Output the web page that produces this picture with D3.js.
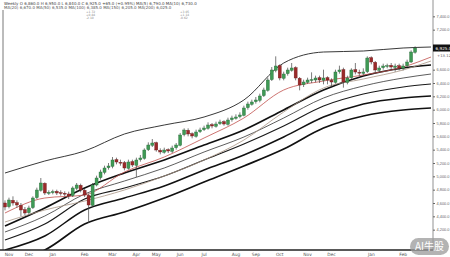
<!DOCTYPE html>
<html>
<head>
<meta charset="utf-8">
<script src="https://cdn.jsdelivr.net/npm/d3@7"></script>
<style>
  body { margin: 0; background: #fff; }
  svg { display: block; font-family: "DejaVu Sans", sans-serif; }
</style>
</head>
<body>
<script>
var width = 450;
var height = 257;

// candles (weekly), prices
var opens = [4600,4545,4640,4605,4565,4500,4455,4530,4680,4790,4895,4745,4755,4775,4755,4745,4735,4710,4820,4865,
  4790,4715,4565,4870,4980,5060,5130,5150,5250,5210,5205,5120,5220,5165,5250,5270,5400,5465,5505,5390,
  5360,5400,5375,5430,5465,5625,5690,5640,5600,5670,5700,5720,5775,5750,5790,5820,5780,5850,5870,5895,
  5915,6030,6080,6120,6140,6210,6290,6450,6590,6660,6470,6540,6590,6630,6470,6375,6410,6440,6445,6480,
  6440,6480,6440,6410,6570,6600,6410,6480,6600,6560,6545,6570,6780,6710,6590,6630,6650,6665,6635,6660,
  6620,6660,6715,6860];
var closes = [4540,4645,4600,4570,4495,4450,4525,4675,4795,4900,4750,4760,4770,4750,4745,4735,4705,4825,4870,4795,
  4720,4570,4870,4975,5065,5125,5155,5245,5215,5200,5125,5215,5170,5245,5275,5395,5470,5500,5395,5365,
  5395,5380,5425,5470,5620,5695,5635,5605,5665,5695,5725,5770,5755,5785,5815,5785,5845,5875,5890,5920,
  6025,6085,6115,6145,6205,6295,6445,6595,6655,6475,6535,6595,6625,6475,6370,6415,6445,6450,6475,6445,
  6475,6445,6415,6565,6595,6415,6475,6595,6565,6550,6565,6775,6715,6595,6625,6655,6660,6640,6655,6625,
  6655,6715,6865,6925];
var highs = [4640,4680,4700,4640,4600,4540,4560,4700,4830,4975,4910,4790,4800,4800,4790,4775,4770,4850,4900,4890,
  4810,4740,4900,5010,5100,5160,5200,5290,5280,5250,5230,5250,5250,5280,5320,5420,5510,5560,5520,5420,
  5430,5420,5460,5500,5650,5720,5720,5660,5700,5730,5760,5810,5800,5820,5850,5840,5880,5910,5930,5960,
  6060,6120,6150,6190,6240,6330,6480,6640,6800,6680,6570,6630,6700,6650,6490,6450,6480,6560,6510,6510,
  6600,6500,6470,6600,6660,6630,6510,6620,6700,6600,6620,6800,6800,6730,6660,6690,6690,6700,6690,6690,
  6690,6750,6890,6950];
var lows = [4490,4520,4560,4530,4400,4420,4430,4510,4660,4770,4720,4720,4730,4720,4710,4700,4660,4690,4790,4760,
  4690,4300,4540,4850,4950,5030,5100,5120,5180,5160,5090,5100,5140,4990,5220,5250,5380,5440,5370,5330,
  5340,5350,5350,5400,5450,5600,5600,5570,5580,5650,5680,5700,5720,5730,5770,5760,5760,5820,5850,5870,
  5900,6000,6060,6090,6110,6190,6270,6430,6560,6440,6440,6510,6570,6440,6290,6340,6390,6400,6410,6400,
  6380,6380,6330,6390,6540,6330,6380,6460,6530,6510,6520,6550,6680,6560,6560,6600,6620,6600,6570,6590,
  6590,6640,6700,6840];

// indicator lines, sampled at these candle indices
var lineIdx = [0,10,20,30,40,50,60,70,80,90,100,107];
var upperBand = [5050,5230,5380,5635,5770,5890,6145,6700,6865,6880,6925,6940];
var maShort   = [4450,4675,4720,5065,5290,5575,5875,6295,6430,6520,6640,6790];
var maMid     = [4315,4495,4630,4795,5005,5245,5545,5965,6325,6460,6595,6730];
var ma50      = [4255,4525,4825,5050,5245,5470,5695,5995,6295,6505,6625,6670];
var lowerBand = [4165,4405,4735,4930,5125,5365,5590,5875,6175,6355,6475,6535];
var ma100     = [4045,4285,4660,4825,5005,5245,5485,5755,6055,6235,6340,6385];
var ma150     = [3895,4105,4495,4675,4855,5095,5320,5590,5890,6085,6175,6205];
var ma200     = [3715,3895,4285,4465,4675,4915,5155,5410,5725,5905,5995,6025];

var xLabels = ["Nov","Dec","Jan","Feb","Mar","Apr","May","Jun","Jul","Aug","Sep","Oct","Nov","Dec","Jan","Feb"];
var xLabelIdx = [1,6,12,20,27,33,38,44,50,58,63,69,76,82,92,100];
var yTicks = d3.range(4000, 7401, 200);

var headerLine1 = "Weekly  O 6,860.0  H 6,950.0  L 6,840.0  C 6,925.0  +65.0 (+0.95%)  MA(5) 6,790.0  MA(10) 6,730.0";
var headerLine2 = "MA(20) 6,670.0  MA(50) 6,535.0    MA(100) 6,385.0    MA(150) 6,205.0    MA(200) 6,025.0";

var svg = d3.select("body").append("svg")
  .attr("width", width)
  .attr("height", height);

var plotLeft = 3, plotRight = 433, plotTop = 10, plotBottom = 250;

var x = d3.scaleLinear().domain([-0.5, 107.5]).range([plotLeft, plotRight]);
var y = d3.scaleLinear().domain([3895, 7405]).range([plotBottom, 16]);

svg.append("defs").append("clipPath").attr("id", "plot")
  .append("rect")
  .attr("x", plotLeft).attr("y", plotTop)
  .attr("width", plotRight - plotLeft).attr("height", plotBottom - plotTop);

var plot = svg.append("g").attr("clip-path", "url(#plot)");

// lines
var lineDefs = [
  { data: ma200, color: "#111", w: 1.7 },
  { data: ma150, color: "#111", w: 1.5 },
  { data: ma100, color: "#1a1a1a", w: 1.2 },
  { data: lowerBand, color: "#333", w: 0.8 },
  { data: ma50, color: "#111", w: 1.7 },
  { data: maMid, color: "#a89484", w: 0.8 },
  { data: maShort, color: "#c0504d", w: 0.8 },
  { data: upperBand, color: "#222", w: 0.9 }
];

var lineGen = d3.line()
  .x(function(d, i) { return x(lineIdx[i]); })
  .y(function(d) { return y(d); })
  .curve(d3.curveMonotoneX);

lineDefs.forEach(function(l) {
  plot.append("path")
    .attr("d", lineGen(l.data))
    .attr("fill", "none")
    .attr("stroke", l.color)
    .attr("stroke-width", l.w);
});

// candles
var candles = opens.map(function(o, i) {
  return { i: i, o: o, c: closes[i], h: highs[i], l: lows[i] };
});

var cg = plot.selectAll("g.candle").data(candles).enter().append("g").attr("class", "candle");

cg.append("line")
  .attr("x1", function(d) { return x(d.i); })
  .attr("x2", function(d) { return x(d.i); })
  .attr("y1", function(d) { return y(d.h); })
  .attr("y2", function(d) { return y(d.l); })
  .attr("stroke", "#444")
  .attr("stroke-width", 0.7);

cg.append("rect")
  .attr("x", function(d) { return x(d.i) - 1.5; })
  .attr("width", 3)
  .attr("y", function(d) { return y(Math.max(d.o, d.c)); })
  .attr("height", function(d) { return Math.max(0.8, Math.abs(y(d.o) - y(d.c))); })
  .attr("fill", function(d) { return d.c >= d.o ? "#3f9a55" : "#9b2a2a"; })
  .attr("stroke", function(d) { return d.c >= d.o ? "#2a6b3a" : "#6e1a1a"; })
  .attr("stroke-width", 0.4);

// frame
svg.append("line").attr("x1", plotLeft).attr("x2", plotLeft).attr("y1", plotTop).attr("y2", plotBottom)
  .attr("stroke", "#555").attr("stroke-width", 0.8);
svg.append("line").attr("x1", plotRight).attr("x2", plotRight).attr("y1", 0).attr("y2", plotBottom)
  .attr("stroke", "#777").attr("stroke-width", 0.8);
svg.append("line").attr("x1", 0).attr("x2", plotRight).attr("y1", plotBottom).attr("y2", plotBottom)
  .attr("stroke", "#222").attr("stroke-width", 1.5);

// right axis, hiding ticks under the price tag
var last = closes[closes.length - 1];
var visTicks = yTicks.filter(function(t) { return Math.abs(y(t) - y(last)) > 9 && y(t) < 236; });
var yAxis = svg.append("g")
  .attr("transform", "translate(" + plotRight + ",0)")
  .call(d3.axisRight(y).tickValues(visTicks).tickSize(2).tickFormat(d3.format(",.1f")));
yAxis.select(".domain").remove();
yAxis.selectAll("line").attr("stroke", "#666");
yAxis.selectAll("text").attr("font-size", 3.9).attr("fill", "#666").attr("x", 3.5);

// last price tag
svg.append("rect")
  .attr("x", plotRight).attr("y", y(last) - 3.5)
  .attr("width", width - plotRight).attr("height", 7)
  .attr("fill", "#111");
svg.append("text")
  .attr("x", plotRight + 2.5).attr("y", y(last) + 1.6)
  .attr("font-size", 4.2).attr("fill", "#fff")
  .text(d3.format(",.1f")(last));
svg.append("text")
  .attr("x", plotRight + 4).attr("y", y(last) + 8.5)
  .attr("font-size", 3.8).attr("fill", "#666")
  .text("+13.12");

// bottom axis labels
svg.selectAll("text.xl").data(xLabels).enter().append("text")
  .attr("class", "xl")
  .attr("x", function(d, i) { return x(xLabelIdx[i]); })
  .attr("y", 255.5)
  .attr("text-anchor", "middle")
  .attr("font-size", 4.4)
  .attr("fill", "#555")
  .text(function(d) { return d; });

// header
svg.append("text").attr("x", 4).attr("y", 4.5)
  .attr("font-size", 4).attr("fill", "#444").text(headerLine1);
svg.append("text").attr("x", 4).attr("y", 9)
  .attr("font-size", 4).attr("fill", "#555").text(headerLine2);
[["+1.72", 86], ["+0.84", 86], ["-2.10", 86], ["+3.05", 180], ["+1.14", 180], ["-0.62", 180]].forEach(function(t, k) {
  svg.append("text").attr("x", t[1]).attr("y", 12.5 + (k % 3) * 3.2)
    .attr("font-size", 3).attr("fill", "#888").text(t[0]);
});

// watermark
var wm = svg.append("g").attr("transform", "translate(410,238)");
wm.append("rect").attr("width", 39).attr("height", 17).attr("rx", 8.5)
  .attr("fill", "#9a9a9a").attr("opacity", 0.75);
wm.append("text").attr("x", 19.5).attr("y", 12).attr("text-anchor", "middle")
  .attr("font-family", "'Noto Sans CJK SC', sans-serif")
  .attr("font-size", 10).attr("fill", "#fff").text("AI牛股");
</script>
</body>
</html>
